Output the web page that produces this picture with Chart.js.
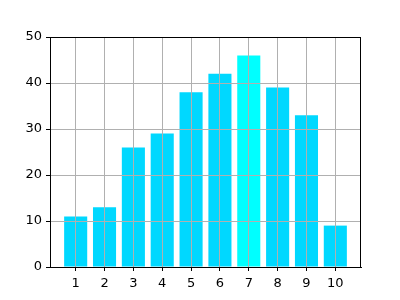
<!DOCTYPE html>
<html lang="en">
<head>
  <meta charset="UTF-8">
  <title>Bar chart</title>
  <script src="https://cdn.jsdelivr.net/npm/chart.js"></script>
  <style>
    html, body { margin: 0; padding: 0; background: #fff; }
  </style>
</head>
<body>
  <canvas id="barChart" width="400" height="300"></canvas>

  <script>
    // data
    const categories = [1, 2, 3, 4, 5, 6, 7, 8, 9, 10];
    const values = [11, 13, 26, 29, 38, 42, 46, 39, 33, 9];
    const barColors = ['#00d8ff', '#00d8ff', '#00d8ff', '#00d8ff', '#00d8ff',
                       '#00d8ff', '#00ffff', '#00d8ff', '#00d8ff', '#00d8ff'];
    const yTicks = [0, 10, 20, 30, 40, 50];

    // black box round the plot area, like the spines
    const frame = {
      id: 'frame',
      afterDraw(chart) {
        const { ctx, chartArea: a } = chart;
        ctx.save();
        ctx.strokeStyle = '#000';
        ctx.lineWidth = 1;
        ctx.strokeRect(Math.round(a.left) + 0.5, Math.round(a.top) + 0.5,
                       Math.round(a.right - a.left) - 1, Math.round(a.bottom - a.top));
        ctx.restore();
      }
    };

    const font = { family: 'DejaVu Sans', size: 13 };

    new Chart(document.getElementById('barChart'), {
      type: 'bar',
      data: {
        datasets: [{
          data: categories.map((c, i) => ({ x: c, y: values[i] })),
          backgroundColor: barColors,
          borderWidth: 0,
          categoryPercentage: 1,
          barPercentage: 0.8
        }]
      },
      options: {
        responsive: false,
        animation: false,
        layout: { padding: { top: 37, right: 39, left: 0, bottom: 0 } },
        plugins: { legend: { display: false }, tooltip: { enabled: false } },
        scales: {
          x: {
            type: 'linear',
            min: 0.11,
            max: 10.89,
            offset: false,
            z: 1,
            afterBuildTicks: s => { s.ticks = categories.map(v => ({ value: v })); },
            afterFit: s => { s.height = 33; },
            grid: { z: 1, offset: false, color: '#b0b0b0', lineWidth: 1, tickColor: '#000', tickLength: 4 },
            border: { z: 2, color: '#000', width: 1 },
            ticks: { color: '#000', font: font, padding: 5, maxRotation: 0 }
          },
          y: {
            min: 0,
            max: 50,
            z: 1,
            afterBuildTicks: s => { s.ticks = yTicks.map(v => ({ value: v })); },
            afterFit: s => { s.width = 50; },
            grid: { z: 1, color: '#b0b0b0', lineWidth: 1, tickColor: '#000', tickLength: 4 },
            border: { z: 2, color: '#000', width: 1 },
            ticks: { color: '#000', font: font, padding: 4 }
          }
        }
      },
      plugins: [frame]
    });
  </script>
</body>
</html>
